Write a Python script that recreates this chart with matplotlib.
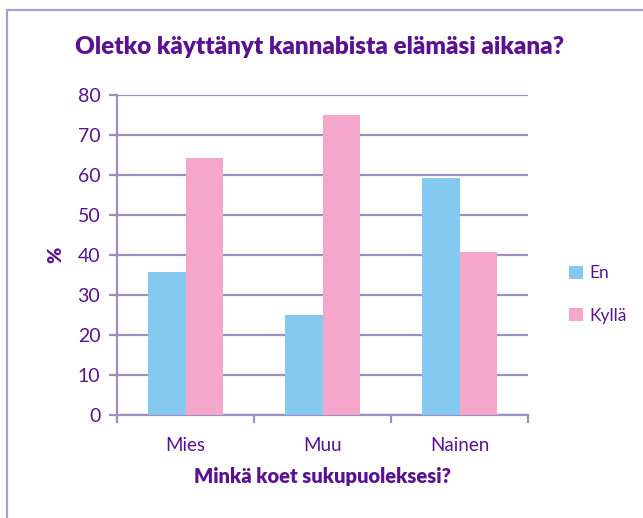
import matplotlib
matplotlib.use("Agg")
import matplotlib.pyplot as plt
from matplotlib.patches import Rectangle
import numpy as np

categories = ["Mies", "Muu", "Nainen"]
en_values = [35.7, 25.0, 59.3]
kylla_values = [64.3, 75.0, 40.7]
series_names = ["En", "Kyllä"]
yticks = [0, 10, 20, 30, 40, 50, 60, 70, 80]

TXT = "#5A1290"
GRID = "#9D90BE"
BLUE = "#86C9F0"
PINK = "#F4A7CA"

plt.rcParams['font.family'] = ['Lato', 'DejaVu Sans']

W, H = 643, 518
fig = plt.figure(figsize=(W / 100, H / 100), dpi=100)
fig.patch.set_facecolor("white")

# chart border
fig.patches.append(Rectangle((7 / W, -0.05), 1.1, 1 - 10 / H + 0.05, transform=fig.transFigure,
                             fill=False, edgecolor="#A99FCB", linewidth=1.6, zorder=0))

ax = fig.add_axes([117 / W, 1 - 415 / H, (528 - 117) / W, (415 - 95) / H])
x = np.arange(len(categories))
bw = 0.277
ax.bar(x - bw / 2, en_values, bw, color=BLUE, label=series_names[0], zorder=3)
ax.bar(x + bw / 2, kylla_values, bw, color=PINK, label=series_names[1], zorder=3)

ax.set_xlim(-0.5, 2.5)
ax.set_ylim(0, 80)
ax.set_yticks(yticks)
ax.set_yticklabels([str(v) for v in yticks])
ax.yaxis.grid(True, color=GRID, linewidth=1.6, zorder=0)
ax.set_axisbelow(True)

ax.set_xticks([-0.5, 0.5, 1.5, 2.5])
ax.set_xticklabels([])
ax.set_xticks(x, minor=True)
ax.set_xticklabels(categories, minor=True)
ax.tick_params(axis='x', which='major', length=6, width=1.6, color=GRID)
ax.tick_params(axis='x', which='minor', length=0, pad=16, labelsize=13.5, labelcolor=TXT)
ax.tick_params(axis='y', length=6, width=1.6, color=GRID, labelsize=14, labelcolor=TXT, pad=6)

for s in ["top", "right"]:
    ax.spines[s].set_visible(False)
for s in ["left", "bottom"]:
    ax.spines[s].set_color(GRID)
    ax.spines[s].set_linewidth(1.6)

fig.text(320 / W, 1 - 47 / H, "Oletko käyttänyt kannabista elämäsi aikana?",
         ha="center", va="center", fontsize=17.5, fontweight="heavy", color=TXT)
fig.text(322 / W, 1 - 477 / H, "Minkä koet sukupuoleksesi?",
         ha="center", va="center", fontsize=14.5, fontweight="heavy", color=TXT)
fig.text(56 / W, 1 - 255 / H, "%", ha="center", va="center", rotation=90,
         fontsize=14, fontweight="heavy", color=TXT)

leg = fig.legend(loc="center left", bbox_to_anchor=(569 / W, 1 - 294.5 / H), frameon=False,
                 borderpad=0, borderaxespad=0,
                 handlelength=0.8, handleheight=0.8, handletextpad=0.35, labelspacing=1.5,
                 fontsize=12.5, labelcolor=TXT)

fig.savefig("out.png", dpi=100)
